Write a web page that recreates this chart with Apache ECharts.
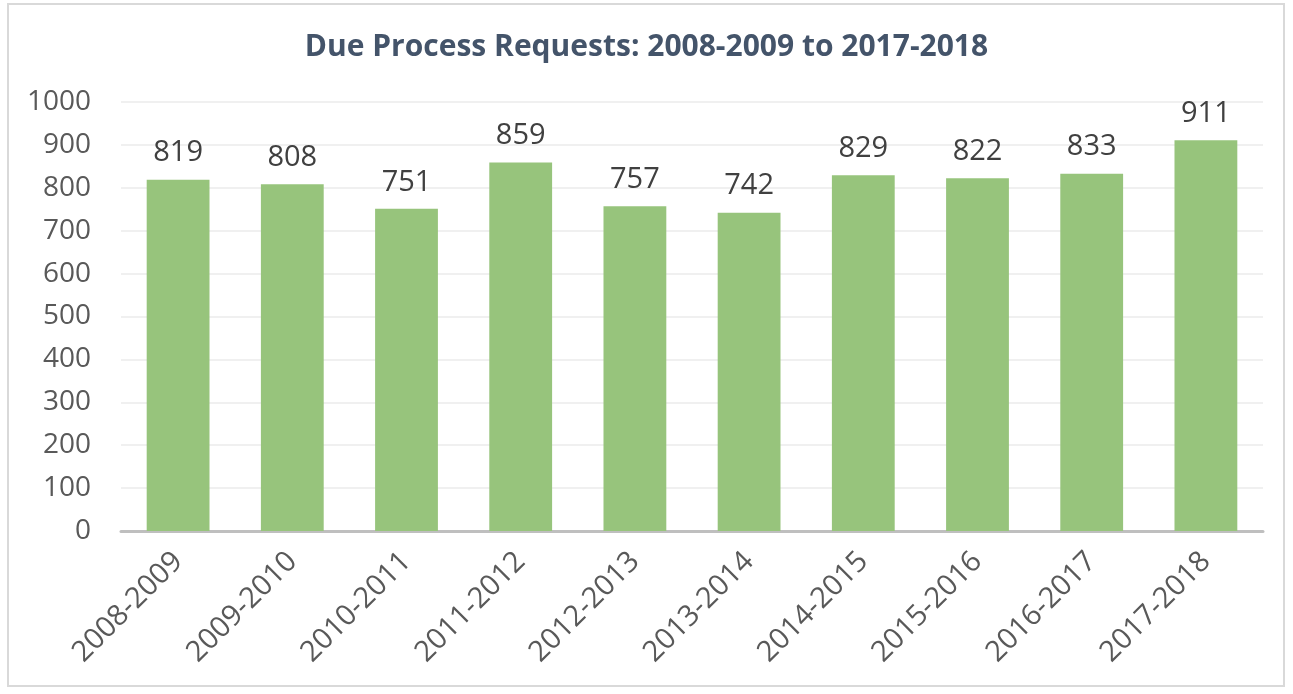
<!DOCTYPE html>
<html>
<head>
<meta charset="utf-8">
<script src="https://cdn.jsdelivr.net/npm/echarts@6/dist/echarts.min.js"></script>
<style>
  html, body { margin: 0; padding: 0; background: #fff; }
  #frame {
    position: absolute; left: 7px; top: 3px;
    width: 1278px; height: 684px;
    border: 2px solid #d9d9d9; box-sizing: border-box;
  }
  #chart { position: absolute; left: 0; top: 0; width: 1293px; height: 694px; }
</style>
</head>
<body>
<div id="frame"></div>
<div id="chart"></div>
<script>
// school years
const years = ['2008-2009', '2009-2010', '2010-2011', '2011-2012', '2012-2013',
  '2013-2014', '2014-2015', '2015-2016', '2016-2017', '2017-2018']
// due process requests per year
const requests = [819, 808, 751, 859, 757, 742, 829, 822, 833, 911]

const chart = echarts.init(document.getElementById('chart'))
chart.setOption({
  animation: false,
  textStyle: { fontFamily: 'Open Sans, Noto Sans, sans-serif' },
  title: {
    text: 'Due Process Requests: 2008-2009 to 2017-2018',
    left: 'center',
    top: 27,
    textStyle: { fontSize: 30, fontWeight: 'bold', color: '#44546A' }
  },
  grid: { left: 121, right: 30, top: 102, bottom: 163, containLabel: false },
  xAxis: {
    type: 'category',
    data: years,
    axisLine: { lineStyle: { color: '#BFBFBF', width: 3 } },
    axisTick: { show: false },
    axisLabel: { rotate: 45, fontSize: 29, color: '#595959', margin: 26 }
  },
  yAxis: {
    type: 'value',
    min: 0,
    max: 1000,
    interval: 100,
    axisLine: { show: false },
    axisTick: { show: false },
    splitLine: { lineStyle: { color: '#EBEBEB', width: 1.5 } },
    axisLabel: { fontSize: 28, color: '#595959', margin: 30, formatter: v => String(v) }
  },
  series: [{
    type: 'bar',
    data: requests,
    barWidth: '55%',
    itemStyle: { color: '#97C47C' },
    label: { show: true, position: 'top', distance: 12, fontSize: 29, color: '#404040' }
  }]
})
</script>
</body>
</html>
